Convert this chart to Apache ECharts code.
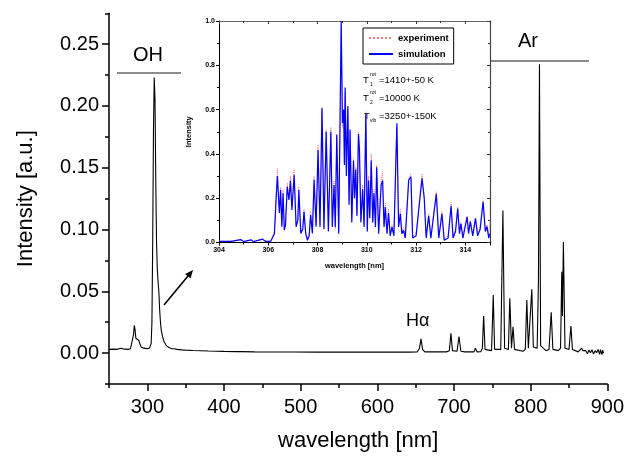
<!DOCTYPE html>
<html>
<head>
<meta charset="utf-8">
<script src="https://cdn.jsdelivr.net/npm/echarts@6/dist/echarts.min.js"></script>
<style>html,body{margin:0;padding:0;background:#fff}#c{width:627px;height:457px}</style>
</head>
<body>
<div id="c"></div>
<script>
// ---- Main spectrum (wavelength nm, intensity a.u.) ----
var mainWl = [250,255,260,263,266,270,275,278,280,282,283,284,285,287,289,290,292,295,300,303,305,306,307,308,309,310,311,312,313,314,315,316,317,318,320,322,325,328,332,335,337,339,345,350,360,370,380,400,418,420,422,440,460,485,487,489,520,560,600,640,652,655,657,659,662,690,694,696,698,704,706.5,709,714,716,718,726,728,730,735,737,738.7,740.5,749,751.2,753,761,763.8,766,771,772.8,775,777,779,790,793,795,797,799.5,801.5,803.5,808.5,810.2,811.5,813,820,824,826.8,829,836,839,840.6,841.5,842.7,844.8,850,852.5,854.5,862,866.5,868,870,872,874,876,878,880,882,884,886,888,890,891,893,894,895];
var mainInt = [0.003,0.0032,0.003,0.0035,0.004,0.0032,0.003,0.0035,0.005,0.015,0.0225,0.019,0.012,0.0105,0.0102,0.008,0.005,0.004,0.0036,0.0042,0.008,0.025,0.09,0.18,0.223,0.205,0.14,0.09,0.068,0.058,0.05,0.036,0.026,0.019,0.013,0.009,0.006,0.0045,0.0035,0.0035,0.0048,0.003,0.0026,0.0024,0.0021,0.0019,0.0017,0.0014,0.0012,0.0022,0.0012,0.001,0.0009,0.0009,0.002,0.0009,0.0008,0.0008,0.0008,0.0008,0.0009,0.004,0.0115,0.003,0.001,0.001,0.002,0.016,0.002,0.0015,0.0134,0.0015,0.001,0.0025,0.001,0.001,0.004,0.001,0.0012,0.004,0.030,0.003,0.002,0.047,0.003,0.003,0.1155,0.004,0.003,0.0443,0.004,0.0214,0.003,0.0015,0.003,0.043,0.004,0.004,0.0516,0.005,0.004,0.06,0.2337,0.006,0.002,0.003,0.033,0.003,0.002,0.004,0.0658,0.03,0.090,0.004,0.003,0.022,0.003,0.001,0.004,0.002,0.0015,0.002,-0.0005,0.0025,0.0002,0.0028,-0.0008,0.002,0.0003,0.003,-0.001,0.0028,-0.0012,0.0025,0.0];

// ---- Inset: OH band (wavelength nm, normalized intensity) ----
var insetWl = [304.0,304.5,304.88,305.0,305.3,305.4,305.77,305.9,306.1,306.25,306.32,306.37,306.45,306.5,306.55,306.6,306.65,306.7,306.77,306.84,306.9,306.96,307.05,307.13,307.2,307.24,307.32,307.4,307.45,307.52,307.59,307.66,307.72,307.79,307.86,307.94,308.02,308.1,308.18,308.26,308.35,308.44,308.54,308.6,308.67,308.72,308.78,308.86,308.96,309.01,309.06,309.09,309.12,309.17,309.23,309.28,309.32,309.39,309.46,309.5,309.55,309.6,309.66,309.7,309.76,309.83,309.89,309.96,310.02,310.07,310.12,310.18,310.24,310.29,310.35,310.4,310.48,310.58,310.64,310.7,310.75,310.82,310.88,310.95,311.02,311.1,311.22,311.29,311.36,311.42,311.49,311.56,311.7,311.79,311.86,312.0,312.24,312.33,312.41,312.51,312.6,312.82,312.92,313.05,313.14,313.3,313.42,313.5,313.6,313.69,313.76,313.82,313.9,314.07,314.13,314.2,314.3,314.41,314.5,314.6,314.72,314.81,314.88,314.95,315.0];
var simInt = [0.005,0.005,0.013,0.004,0.012,0.004,0.015,0.005,0.006,0.04,0.2,0.30,0.133,0.237,0.071,0.222,0.056,0.08,0.252,0.192,0.279,0.147,0.305,0.071,0.1,0.237,0.041,0.06,0.139,0.04,0.01,0.03,0.124,0.041,0.283,0.071,0.418,0.07,0.606,0.06,0.50,0.05,0.50,0.07,0.26,0.07,0.486,0.04,1.0,0.54,0.6,0.35,0.70,0.30,0.616,0.17,0.51,0.09,0.37,0.2,0.33,0.12,0.49,0.42,0.09,0.24,0.07,0.585,0.05,0.28,0.11,0.37,0.09,0.222,0.07,0.34,0.04,0.26,0.28,0.07,0.16,0.04,0.133,0.03,0.07,0.03,0.538,0.07,0.13,0.04,0.055,0.02,0.282,0.297,0.02,0.03,0.29,0.2,0.02,0.12,0.02,0.22,0.02,0.13,0.01,0.02,0.166,0.02,0.05,0.153,0.04,0.085,0.02,0.116,0.04,0.094,0.03,0.109,0.03,0.06,0.184,0.05,0.072,0.02,0.04];
var expInt = [0.006,0.006,0.012,0.005,0.011,0.005,0.014,0.006,0.008,0.05,0.22,0.335,0.15,0.25,0.08,0.24,0.07,0.09,0.27,0.2,0.30,0.16,0.33,0.08,0.11,0.25,0.05,0.07,0.15,0.05,0.02,0.04,0.14,0.05,0.30,0.08,0.44,0.08,0.61,0.07,0.51,0.06,0.52,0.08,0.28,0.06,0.49,0.06,0.98,0.52,0.58,0.37,0.68,0.32,0.60,0.19,0.50,0.11,0.38,0.21,0.34,0.13,0.50,0.46,0.1,0.26,0.08,0.59,0.06,0.3,0.12,0.40,0.1,0.24,0.08,0.35,0.05,0.27,0.32,0.08,0.18,0.05,0.15,0.04,0.08,0.04,0.52,0.08,0.15,0.05,0.07,0.03,0.29,0.31,0.03,0.04,0.31,0.21,0.03,0.13,0.03,0.23,0.03,0.14,0.02,0.03,0.18,0.03,0.06,0.16,0.05,0.09,0.03,0.12,0.05,0.1,0.04,0.11,0.04,0.07,0.19,0.06,0.08,0.03,0.1];

// tick label values
var mainXLabels = [300,400,500,600,700,800,900];
var mainYLabels = [0, 0.05, 0.1, 0.15, 0.2, 0.25];

function zip(a, b) { return a.map(function (v, i) { return [v, b[i]]; }); }

var FF = 'Liberation Sans, Arial, sans-serif';
var chart = echarts.init(document.getElementById('c'), null, { renderer: 'canvas' });

var axisBlack = { onZero: false, lineStyle: { color: '#000', width: 1.5 } };

var option = {
  animation: false,
  backgroundColor: '#fff',
  grid: [
    { left: 109, right: 18.7, top: 13.3, bottom: 73, containLabel: false },
    { left: 219, right: 137, top: 21, bottom: 214.5, containLabel: false, show: true, backgroundColor: '#fff', borderWidth: 0 }
  ],
  xAxis: [
    { gridIndex: 0, type: 'value', min: 250, max: 900, interval: 50, position: 'bottom',
      axisLine: axisBlack, splitLine: { show: false },
      axisTick: { customValues: mainXLabels, length: 7, lineStyle: { color: '#000', width: 1.5 } },
      axisLabel: { customValues: mainXLabels, fontSize: 20, color: '#000', fontFamily: FF, margin: 13 },
      name: 'wavelength [nm]', nameLocation: 'middle', nameGap: 46,
      nameTextStyle: { fontSize: 22, color: '#000', fontFamily: FF } },
    { gridIndex: 0, type: 'value', min: 250, max: 900, interval: 50, position: 'bottom',
      axisLine: { show: false, onZero: false }, splitLine: { show: false }, axisLabel: { show: false },
      axisTick: { length: 4, lineStyle: { color: '#000', width: 1.5 } } },
    { gridIndex: 1, type: 'value', min: 304, max: 315, interval: 2, position: 'bottom',
      axisLine: { onZero: false, lineStyle: { color: '#000', width: 1 } }, splitLine: { show: false },
      axisTick: { length: 3, lineStyle: { color: '#000' } },
      minorTick: { show: true, splitNumber: 2, length: 2, lineStyle: { color: '#000' } },
      axisLabel: { fontSize: 7, fontWeight: 'bold', color: '#000', fontFamily: FF, margin: 4, showMaxLabel: false },
      name: 'wavelength [nm]', nameLocation: 'middle', nameGap: 19,
      nameTextStyle: { fontSize: 7.5, fontWeight: 'bold', color: '#000', fontFamily: FF } },
    { gridIndex: 1, type: 'value', min: 304, max: 315, interval: 2, position: 'top',
      axisLine: { onZero: false, lineStyle: { color: '#666', width: 1.2 } }, splitLine: { show: false },
      axisTick: { inside: true, length: 3, lineStyle: { color: '#333' } },
      minorTick: { show: true, splitNumber: 2, length: 2, lineStyle: { color: '#333' } },
      axisLabel: { show: false } }
  ],
  yAxis: [
    { gridIndex: 0, type: 'value', min: -0.025, max: 0.275, interval: 0.025, position: 'left',
      axisLine: axisBlack, splitLine: { show: false },
      axisTick: { customValues: mainYLabels, length: 7, lineStyle: { color: '#000', width: 1.5 } },
      axisLabel: { customValues: mainYLabels, fontSize: 20, color: '#000', fontFamily: FF, margin: 10,
        formatter: function (v) { return v.toFixed(2); } },
      name: 'Intensity [a.u.]', nameLocation: 'middle', nameGap: 72, nameRotate: 90,
      nameTextStyle: { fontSize: 22, color: '#000', fontFamily: FF } },
    { gridIndex: 0, type: 'value', min: -0.025, max: 0.275, interval: 0.025, position: 'left',
      axisLine: { show: false, onZero: false }, splitLine: { show: false }, axisLabel: { show: false },
      axisTick: { length: 4, lineStyle: { color: '#000', width: 1.5 } } },
    { gridIndex: 1, type: 'value', min: 0, max: 1, interval: 0.2, position: 'left',
      axisLine: { onZero: false, lineStyle: { color: '#000', width: 1 } }, splitLine: { show: false },
      axisTick: { length: 3, lineStyle: { color: '#000' } },
      minorTick: { show: true, splitNumber: 2, length: 2, lineStyle: { color: '#000' } },
      axisLabel: { fontSize: 7, fontWeight: 'bold', color: '#000', fontFamily: FF, margin: 4,
        formatter: function (v) { return v.toFixed(1); } },
      name: 'Intensity', nameLocation: 'middle', nameGap: 26, nameRotate: 90,
      nameTextStyle: { fontSize: 7.5, fontWeight: 'bold', color: '#000', fontFamily: FF } },
    { gridIndex: 1, type: 'value', min: 0, max: 1, interval: 0.2, position: 'right',
      axisLine: { onZero: false, lineStyle: { color: '#444', width: 1.2 } }, splitLine: { show: false },
      axisTick: { inside: true, length: 3, lineStyle: { color: '#333' } },
      minorTick: { show: true, splitNumber: 2, length: 2, lineStyle: { color: '#333' } },
      axisLabel: { show: false } }
  ],
  legend: {
    data: ['experiment', 'simulation'],
    left: 363, top: 28, orient: 'vertical',
    backgroundColor: '#fff', borderColor: '#000', borderWidth: 1, borderRadius: 0,
    padding: [5, 5, 5, 5], itemGap: 6, itemWidth: 24, itemHeight: 9,
    itemStyle: { opacity: 0 },
    textStyle: { fontSize: 9.5, fontWeight: 'bold', color: '#000', fontFamily: FF }
  },
  series: [
    { name: 'spectrum', type: 'line', xAxisIndex: 0, yAxisIndex: 0, data: zip(mainWl, mainInt),
      symbol: 'none', lineStyle: { color: '#000', width: 1.1 }, z: 3 },
    { name: 'experiment', type: 'line', xAxisIndex: 2, yAxisIndex: 2, data: zip(insetWl, expInt),
      symbol: 'none', itemStyle: { color: '#f08080' },
      lineStyle: { color: '#f08080', width: 1, type: 'dotted' }, z: 4 },
    { name: 'simulation', type: 'line', xAxisIndex: 2, yAxisIndex: 2, data: zip(insetWl, simInt),
      symbol: 'none', itemStyle: { color: '#0000ff' },
      lineStyle: { color: '#0000ff', width: 1.2 }, z: 5 }
  ],
  graphic: [
    // OH label and bracket line
    { type: 'text', left: 133, top: 45, style: { text: 'OH', fontSize: 20, fill: '#000', fontFamily: FF } },
    { type: 'line', shape: { x1: 117, y1: 73, x2: 181, y2: 73 }, style: { stroke: '#666', lineWidth: 1.3 } },
    // Ar label and bracket line
    { type: 'text', left: 518, top: 31, style: { text: 'Ar', fontSize: 20, fill: '#000', fontFamily: FF } },
    { type: 'line', shape: { x1: 491, y1: 61, x2: 589, y2: 61 }, style: { stroke: '#666', lineWidth: 1.3 } },
    // H alpha
    { type: 'text', left: 406, top: 312, style: { text: 'H\u03b1', fontSize: 18, fill: '#000', fontFamily: FF } },
    // Arrow
    { type: 'line', shape: { x1: 164, y1: 305, x2: 188, y2: 276 }, style: { stroke: '#000', lineWidth: 1.6 } },
    { type: 'polygon', shape: { points: [[193, 270], [190.6, 278.4], [185.2, 274.0]] }, style: { fill: '#000' } },
    // Temperatures
    { type: 'text', x: 363, y: 75, style: { text: 'T', fontSize: 9.5, fill: '#000', fontFamily: FF } },
    { type: 'text', x: 370, y: 72, style: { text: 'rot', fontSize: 5, fill: '#000', fontFamily: FF } },
    { type: 'text', x: 370, y: 82, style: { text: '1', fontSize: 5, fill: '#000', fontFamily: FF } },
    { type: 'text', x: 379, y: 75, style: { text: '=1410+-50 K', fontSize: 9.5, fill: '#000', fontFamily: FF } },
    { type: 'text', x: 363, y: 93, style: { text: 'T', fontSize: 9.5, fill: '#000', fontFamily: FF } },
    { type: 'text', x: 370, y: 90, style: { text: 'rot', fontSize: 5, fill: '#000', fontFamily: FF } },
    { type: 'text', x: 370, y: 100, style: { text: '2', fontSize: 5, fill: '#000', fontFamily: FF } },
    { type: 'text', x: 379, y: 93, style: { text: '=10000 K', fontSize: 9.5, fill: '#000', fontFamily: FF } },
    { type: 'text', x: 364, y: 111, style: { text: 'T', fontSize: 9.5, fill: '#000', fontFamily: FF } },
    { type: 'text', x: 370, y: 118, style: { text: 'vib', fontSize: 5, fill: '#000', fontFamily: FF } },
    { type: 'text', x: 379, y: 111, style: { text: '=3250+-150K', fontSize: 9.5, fill: '#000', fontFamily: FF } }
  ]
};
chart.setOption(option);
</script>
</body>
</html>
